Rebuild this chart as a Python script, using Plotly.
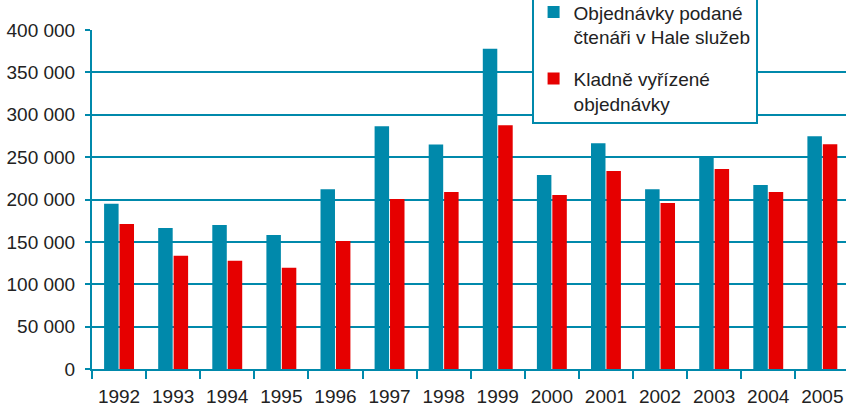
import plotly.graph_objects as go

years = [str(y) for y in range(1992, 2006)]
podane = [195000, 166500, 170000, 158000, 212000, 286500, 265000, 378000,
          229000, 266500, 212000, 250400, 217000, 274700]
vyrizene = [171000, 133500, 127600, 119400, 151000, 200600, 208800, 287600,
            205300, 233500, 196000, 235900, 208800, 265300]

name1 = "Objednávky podané<br>čtenáři v Hale služeb"
name2 = "Kladně vyřízené<br>objednávky"

TEAL = "#0089ab"
RED = "#e60000"
TXT = "#222222"
FONT = "Liberation Sans, Arial, sans-serif"
FS = 19

fig = go.Figure()
fig.add_trace(go.Bar(x=years, y=podane, name=name1, marker_color=TEAL,
                     marker_line_width=0, legendgroup="a"))
fig.add_trace(go.Bar(x=years, y=vyrizene, name=name2, marker_color=RED,
                     marker_line_width=0, legendgroup="b"))

xr = [-0.5, 13.437]
fig.update_layout(
    width=846, height=406,
    margin=dict(l=92, r=0, t=29.5, b=36.5, autoexpand=False),
    paper_bgcolor="white", plot_bgcolor="white",
    barmode="group", bargap=0.43, bargroupgap=0.06,
    separators=", ",
    font=dict(family=FONT, size=FS, color=TXT),
    showlegend=True,
    legend=dict(
        x=0.583, xanchor="left", y=0.722, yanchor="bottom",
        bgcolor="white", bordercolor=TEAL, borderwidth=2,
        font=dict(family=FONT, size=FS, color=TXT),
        traceorder="grouped", tracegroupgap=14, valign="top",
    ),
    xaxis=dict(
        type="category", categoryorder="array", categoryarray=years,
        range=xr, tickson="boundaries", ticks="outside", ticklen=8,
        tickwidth=2, tickcolor=TEAL, showline=True, linecolor=TEAL,
        linewidth=2, showgrid=False, ticklabelstandoff=9,
        tickfont=dict(family=FONT, size=FS, color=TXT),
    ),
    xaxis2=dict(
        type="category", categoryorder="array", categoryarray=years,
        range=xr, tickson="boundaries", ticks="inside", ticklen=6,
        tickwidth=2, tickcolor=TEAL, showline=False, showgrid=False,
        showticklabels=False, overlaying="x", anchor="y", side="bottom",
    ),
    yaxis=dict(
        range=[0, 400000], tickvals=[0, 50000, 100000, 150000, 200000,
                                     250000, 300000, 350000, 400000],
        tickformat=",d", ticks="outside", ticklen=5, tickwidth=2,
        tickcolor=TEAL, showline=True, linecolor=TEAL, linewidth=2,
        showgrid=True, gridcolor=TEAL, gridwidth=1.6, zeroline=False,
        ticklabelstandoff=6,
        tickfont=dict(family=FONT, size=FS, color=TXT),
    ),
)

fig.write_html(
    "out.html",
    config={"displayModeBar": False},
    post_script="document.body.style.margin='0';document.body.style.overflow='hidden';",
)
